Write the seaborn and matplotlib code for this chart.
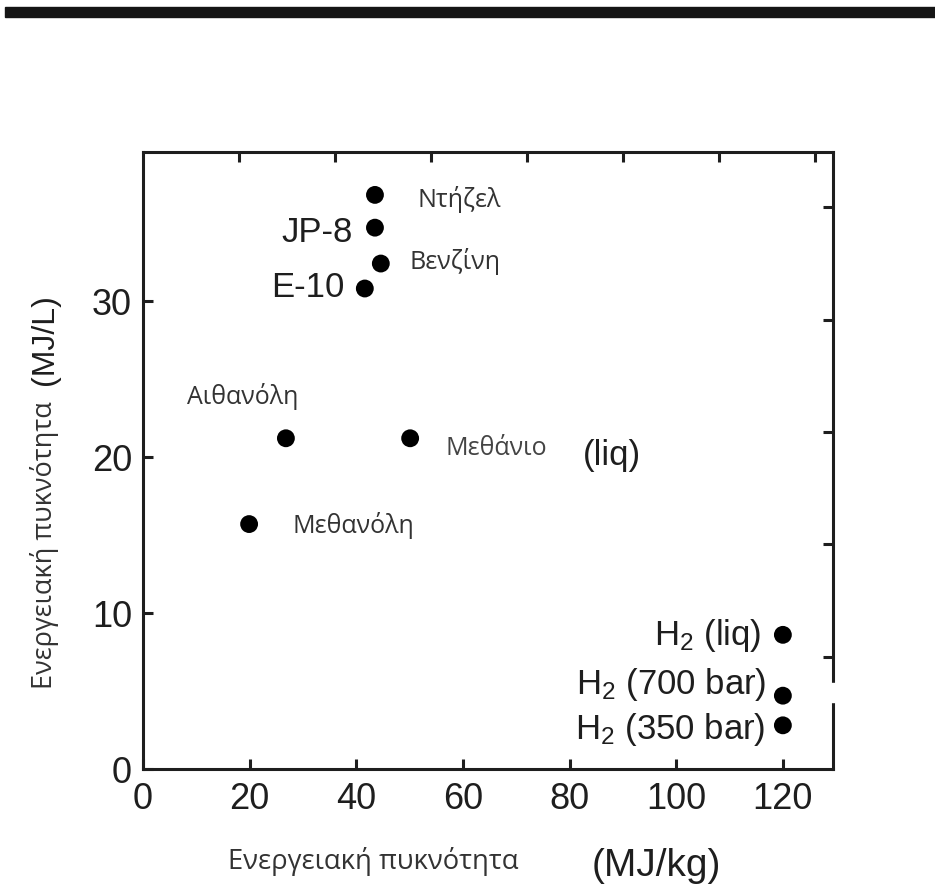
import matplotlib
matplotlib.use("Agg")
import matplotlib.pyplot as plt
from matplotlib.patches import Rectangle
import seaborn as sns
import pandas as pd

# Fuel energy densities
fuels = ["Ντήζελ", "JP-8", "Βενζίνη", "E-10", "Αιθανόλη", "Μεθάνιο",
         "Μεθανόλη", "H$_2$ (liq)", "H$_2$ (700 bar)", "H$_2$ (350 bar)"]
mj_per_kg = [43.5, 43.5, 44.6, 41.6, 26.8, 50.1, 19.9, 120.0, 120.0, 120.0]
mj_per_l = [36.8, 34.7, 32.4, 30.8, 21.2, 21.2, 15.7, 8.6, 4.7, 2.8]

x_ticks = [0, 20, 40, 60, 80, 100, 120]
y_ticks = [0, 10, 20, 30]
top_ticks = [18, 36, 54, 72, 90, 108, 126]
right_ticks = [7.2, 14.4, 21.6, 28.8, 36.0]

df = pd.DataFrame({"fuel": fuels, "kg": mj_per_kg, "l": mj_per_l})

sns.set_theme(style="ticks")
plt.rcParams["font.family"] = ["Liberation Sans", "DejaVu Sans"]
plt.rcParams["mathtext.fontset"] = "custom"
plt.rcParams["mathtext.rm"] = "Liberation Sans"
plt.rcParams["mathtext.it"] = "Liberation Sans"

W, H = 935, 895
fig = plt.figure(figsize=(W / 100, H / 100), dpi=100)
fig.patch.set_facecolor("white")
ax = fig.add_axes([143 / W, 1 - 770 / H, (833 - 143) / W, (770 - 153) / H])

sns.scatterplot(data=df, x="kg", y="l", ax=ax, s=165, color="black",
                edgecolor="none", legend=False, zorder=3)

ax.set_xlim(0, 129.4)
ax.set_ylim(0, 39.55)
ax.set_xlabel("")
ax.set_ylabel("")

ink = "#1e1e1e"
for sp in ax.spines.values():
    sp.set_linewidth(2.2)
    sp.set_color(ink)
    sp.set_visible(True)

ax.set_xticks(x_ticks)
ax.set_yticks(y_ticks)
ax.tick_params(axis="both", direction="in", length=7, width=2.2, color=ink,
               labelsize=26, labelcolor=ink)
ax.tick_params(axis="x", pad=9)
ax.tick_params(axis="y", pad=8)

top = ax.secondary_xaxis("top")
top.set_xticks(top_ticks)
top.set_xticklabels([])
top.tick_params(direction="in", length=7, width=2.2, color=ink)
top.spines["top"].set_visible(False)

right = ax.secondary_yaxis("right")
right.set_yticks(right_ticks)
right.set_yticklabels([])
right.tick_params(direction="in", length=7, width=2.2, color=ink)
right.spines["right"].set_visible(False)

greek = ["Open Sans", "DejaVu Sans"]
sans = ["Liberation Sans", "DejaVu Sans"]
gcol = "#333333"

# label style per fuel: (dx, dy in pixels, ha, va, family, size, colour)
label_style = {
    "Ντήζελ": (43, -4, "left", "center", greek, 18, gcol),
    "JP-8": (-22, -4, "right", "center", sans, 25, ink),
    "Βενζίνη": (29, 3, "left", "center", greek, 18, gcol),
    "E-10": (-20, 2, "right", "center", sans, 25, ink),
    "Αιθανόλη": (-99, 43, "left", "center", greek, 18, gcol),
    "Μεθάνιο": (35, -9, "left", "center", greek, 18, "#444444"),
    "Μεθανόλη": (43, 0, "left", "center", greek, 18, gcol),
    "H$_2$ (liq)": (-21, -9, "right", "baseline", sans, 25, ink),
    "H$_2$ (700 bar)": (-16, 3, "right", "baseline", sans, 25, ink),
    "H$_2$ (350 bar)": (-17, -13, "right", "baseline", sans, 25, ink),
}
for name, xv, yv in zip(fuels, mj_per_kg, mj_per_l):
    dx, dy, ha, va, fam, size, col = label_style[name]
    ax.annotate(name, (xv, yv), xytext=(dx, dy), textcoords="offset pixels",
                ha=ha, va=va, family=fam, fontsize=size, color=col)

# liquid methane qualifier
ax.annotate("(liq)", (mj_per_kg[5], mj_per_l[5]), xytext=(173, -16),
            textcoords="offset pixels", ha="left", va="center",
            family=sans, fontsize=25, color=ink)

# axis titles
fig.text(228 / W, 1 - 862 / H, "Ενεργειακή πυκνότητα", ha="left", va="center",
         family=greek, fontsize=19.7, color=gcol)
fig.text(592 / W, 1 - 866 / H, "(MJ/kg)", ha="left", va="center",
         family=sans, fontsize=28, color=ink)
fig.text(45 / W, 1 - 545 / H, "Ενεργειακή πυκνότητα", ha="center", va="center",
         rotation=90, family=greek, fontsize=19.5, color=gcol)
fig.text(45 / W, 1 - 340 / H, "(MJ/L)", ha="center", va="center",
         rotation=90, family=sans, fontsize=23, color=ink)

# header bar and gap in the right frame
fig.patches.append(Rectangle((5 / W, 1 - 18 / H), 1, 10 / H,
                             transform=fig.transFigure, color="#151515",
                             zorder=5))
fig.patches.append(Rectangle((826 / W, 1 - 703 / H), 20 / W, 19 / H,
                             transform=fig.transFigure, color="white",
                             zorder=5))

fig.savefig("out.png", dpi=100, facecolor="white")
